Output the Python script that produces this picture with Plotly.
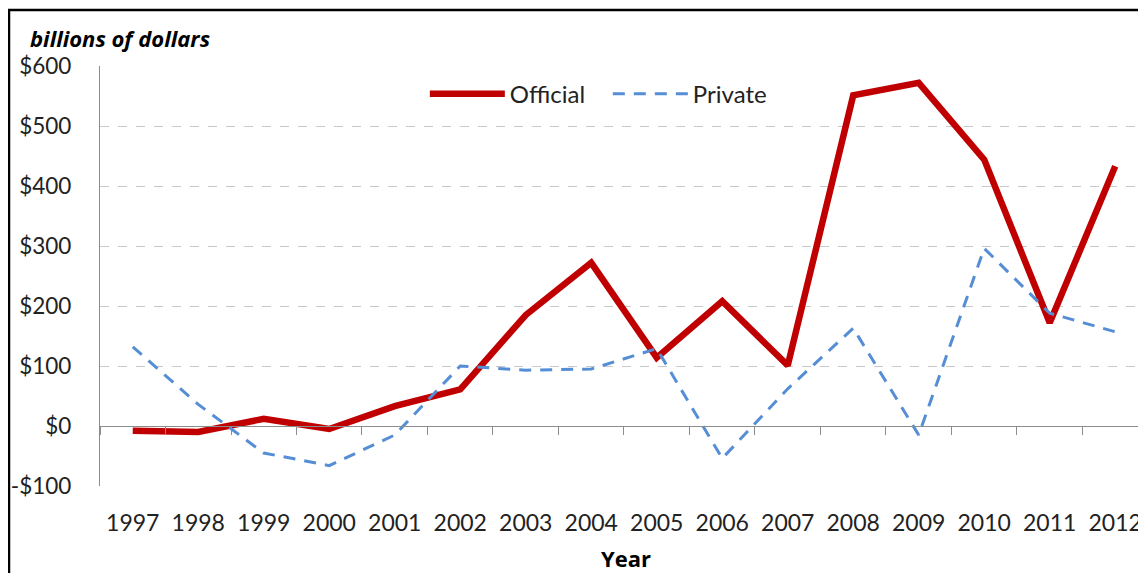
import plotly.graph_objects as go

years = ["1997", "1998", "1999", "2000", "2001", "2002", "2003", "2004",
         "2005", "2006", "2007", "2008", "2009", "2010", "2011", "2012"]
official = [-8, -10, 12, -5, 33, 61, 185, 272, 114, 208, 101, 551, 572, 444, 172, 433]
private = [132, 36, -45, -66, -15, 100, 93, 95, 129, -54, 62, 163, -15, 296, 188, 157]
y_ticks = [-100, 0, 100, 200, 300, 400, 500, 600]
y_tick_labels = ["-$100", "$0", "$100", "$200", "$300", "$400", "$500", "$600"]

FONT = "Lato"
TITLE_FONT = "Open Sans"
fig = go.Figure()
fig.add_trace(go.Scatter(x=years, y=official, name="Official", mode="lines",
                         line=dict(color="#C00000", width=6.5)))
fig.add_trace(go.Scatter(x=years, y=private, name="Private", mode="lines",
                         line=dict(color="#558ED5", width=3, dash="12px,9px")))
# invisible carrier for the zero-crossing category axis
fig.add_trace(go.Scatter(x=years, y=official, xaxis="x2", mode="lines",
                         line=dict(width=0), opacity=0, showlegend=False,
                         hoverinfo="skip"))

xr = [-0.5, 15.47]
fig.update_layout(
    width=1138, height=565,
    margin=dict(l=92, r=0, t=58, b=87),
    paper_bgcolor="white", plot_bgcolor="white",
    font=dict(family=FONT, size=23, color="#222222"),
    showlegend=True,
    legend=dict(orientation="h", x=0.4855, xanchor="center", y=0.933, yanchor="middle",
                font=dict(family=FONT, size=24, color="#222222"),
                itemwidth=75, entrywidth=93, bgcolor="rgba(0,0,0,0)"),
    xaxis=dict(type="category", categoryarray=years, range=xr, showgrid=False,
               showline=False, ticks="", zeroline=False,
               tickfont=dict(family=FONT, size=23, color="#222222"),
               ticklabelstandoff=21),
    xaxis2=dict(type="category", categoryarray=years, range=xr, overlaying="x",
                anchor="free", position=1/7, showgrid=False, showline=True,
                linecolor="#8c8c8c", linewidth=1.2, ticks="outside", ticklen=8,
                tickcolor="#8c8c8c", tickson="boundaries", showticklabels=False,
                zeroline=False),
    yaxis=dict(range=[-100, 600], tickvals=y_ticks, ticktext=y_tick_labels,
               showgrid=True, gridcolor="#c8c8c8", griddash="dash", gridwidth=1,
               showline=True, linecolor="#8c8c8c", linewidth=1.2,
               zeroline=False, ticks="", ticklabelstandoff=23,
               tickfont=dict(family=FONT, size=22.5, color="#222222")),
    shapes=[dict(type="rect", xref="paper", yref="paper",
                 x0=-0.087, x1=1.2, y0=-0.5, y1=1.1333,
                 line=dict(color="black", width=2.5), fillcolor="rgba(0,0,0,0)")],
    annotations=[
        dict(text="<b><i>billions of dollars</i></b>", xref="paper", yref="paper",
             x=-0.0688, y=1.0667, xanchor="left", yanchor="middle", showarrow=False,
             font=dict(family=TITLE_FONT, size=22, color="black")),
        dict(text="<b>Year</b>", xref="paper", yref="paper", x=0.503, y=-0.1714,
             xanchor="center", yanchor="middle", showarrow=False,
             font=dict(family=TITLE_FONT, size=22, color="black")),
    ],
)
fig.write_html("out.html")
